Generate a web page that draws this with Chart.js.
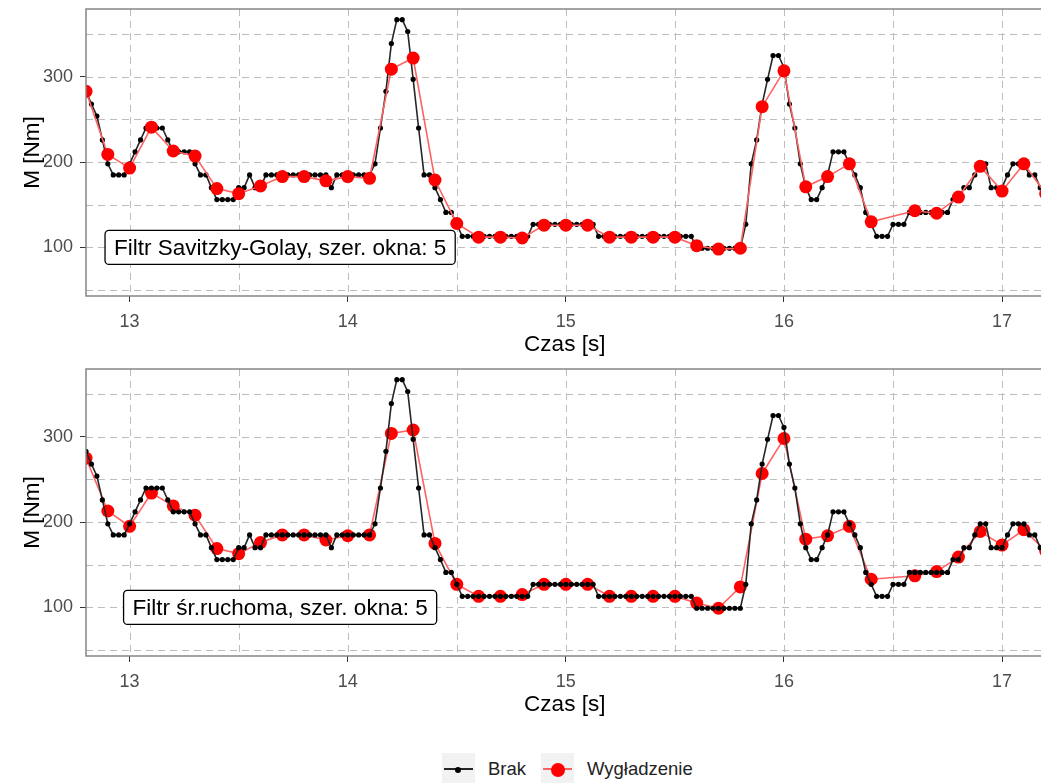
<!DOCTYPE html>
<html lang="pl">
<head>
<meta charset="utf-8">
<title>Wygładzanie momentu</title>
<script src="https://cdn.jsdelivr.net/npm/chart.js@4.4.1/dist/chart.umd.min.js"></script>
<style>
  html, body { margin: 0; padding: 0; background: #fff; overflow: hidden; width: 1041px; height: 783px; }
  canvas { position: absolute; left: 0; }
  #wykres1 { top: 0; }
  #wykres2 { top: 360px; }
  .klucz { position: absolute; top: 753px; width: 33px; height: 33px; background: #f2f2f2; }
  .klucz .linia { position: absolute; left: 2px; right: 2px; top: 15px; height: 2px; }
  .klucz .kropka { position: absolute; border-radius: 50%; }
  .tekst { position: absolute; top: 758px; font: 18.5px "Liberation Sans", Arial, sans-serif; color: #222; line-height: 22px; }
</style>
</head>
<body>
<canvas id="wykres1" width="1050" height="362"></canvas>
<canvas id="wykres2" width="1050" height="362"></canvas>
<div id="legenda"></div>
<script>
// Sygnał surowy (Brak) - próbki co 0.025 s od 12.8 s
const T0 = 12.8;
const DT = 0.025;
const brakM = [
  283, 268, 254, 226, 198, 185, 185, 185, 198, 212,
  226, 240, 240, 240, 240, 226, 212, 212, 212, 212,
  198, 185, 185, 170, 156, 156, 156, 156, 170, 170,
  185, 170, 170, 185, 185, 185, 185, 185, 185, 185,
  185, 185, 185, 185, 185, 170, 185, 185, 185, 185,
  185, 185, 185, 198, 240, 283, 339, 367, 367, 353,
  297, 240, 185, 185, 170, 156, 141, 141, 127, 113,
  113, 113, 113, 113, 113, 113, 113, 113, 113, 113,
  113, 113, 127, 127, 127, 127, 127, 127, 127, 127,
  127, 127, 127, 127, 113, 113, 113, 113, 113, 113,
  113, 113, 113, 113, 113, 113, 113, 113, 113, 113,
  113, 113, 99, 99, 99, 99, 99, 99, 99, 99,
  99, 127, 198, 226, 268, 297, 325, 325, 311, 268,
  240, 198, 170, 156, 156, 170, 185, 212, 212, 212,
  198, 185, 170, 141, 127, 113, 113, 113, 127, 127,
  127, 141, 141, 141, 141, 141, 141, 141, 141, 156,
  156, 170, 170, 185, 198, 198, 170, 170, 170, 185,
  198, 198, 198, 185, 185, 170, 170
];
const brakT = brakM.map((_, i) => +(T0 + i * DT).toFixed(3));

// Sygnał wygładzony - co 0.1 s (brak punktu 16.5 s)
const wygT = [12.8, 12.9, 13.0, 13.1, 13.2, 13.3, 13.4, 13.5, 13.6, 13.7, 13.8, 13.9,
  14.0, 14.1, 14.2, 14.3, 14.4, 14.5, 14.6, 14.7, 14.8, 14.9, 15.0, 15.1, 15.2, 15.3,
  15.4, 15.5, 15.6, 15.7, 15.8, 15.9, 16.0, 16.1, 16.2, 16.3, 16.4, 16.6, 16.7, 16.8,
  16.9, 17.0, 17.1, 17.2];
const sgM = [283, 209, 193, 241, 213, 207, 169, 163, 172, 183, 183, 178,
  183, 181, 309, 322, 179, 128, 112, 112, 111, 126, 126, 126, 112, 112,
  112, 112, 102, 98, 99, 265, 307, 171, 183, 198, 130, 143, 140, 159,
  195, 166, 198, 163];
const maM = [275, 213, 195, 234, 219, 208, 169, 163, 176, 185, 185, 179,
  184, 185, 304, 308, 175, 127, 113, 113, 115, 127, 127, 127, 113, 113,
  113, 113, 105, 99, 124, 257, 298, 180, 184, 195, 133, 137, 142, 159,
  189, 173, 191, 166];

const nazwySerii = ['Brak', 'Wygładzenie'];
const opisy = ['Filtr Savitzky-Golay, szer. okna: 5', 'Filtr śr.ruchoma, szer. okna: 5'];

const xTicks = [13, 14, 15, 16, 17];
const xMinor = [13.5, 14.5, 15.5, 16.5];
const yTicks = [100, 200, 300];
const yMinor = [50, 150, 250, 350];

const CZCIONKA = '"Liberation Sans", Arial, sans-serif';
Chart.defaults.font.family = CZCIONKA;

// siatka przerywana, etykieta z filtrem i ramka panelu
const panel = {
  id: 'panel',
  beforeDatasetsDraw(chart) {
    const { ctx, chartArea: a, scales: { x, y } } = chart;
    ctx.save();
    ctx.beginPath();
    ctx.rect(a.left, a.top, a.right - a.left, a.bottom - a.top);
    ctx.clip();
    ctx.strokeStyle = '#bdbdbd';
    ctx.lineWidth = 1;
    ctx.setLineDash([7, 5]);
    [...xTicks, ...xMinor].forEach(v => {
      const px = Math.round(x.getPixelForValue(v)) + 0.5;
      ctx.beginPath(); ctx.moveTo(px, a.top); ctx.lineTo(px, a.bottom); ctx.stroke();
    });
    [...yTicks, ...yMinor].forEach(v => {
      const py = Math.round(y.getPixelForValue(v)) + 0.5;
      ctx.beginPath(); ctx.moveTo(a.left, py); ctx.lineTo(a.right, py); ctx.stroke();
    });
    ctx.restore();
  },
  afterDatasetsDraw(chart, args, opts) {
    const { ctx, chartArea: a, scales: { x, y } } = chart;
    ctx.save();
    ctx.font = '22.5px ' + CZCIONKA;
    const w = ctx.measureText(opts.text).width + 18;
    const h = 34;
    const cx = x.getPixelForValue(opts.x);
    const cy = y.getPixelForValue(opts.y);
    ctx.beginPath();
    ctx.roundRect(cx - w / 2, cy - h / 2, w, h, 4);
    ctx.fillStyle = '#fff';
    ctx.fill();
    ctx.strokeStyle = '#000';
    ctx.lineWidth = 1.3;
    ctx.stroke();
    ctx.fillStyle = '#000';
    ctx.textAlign = 'center';
    ctx.textBaseline = 'middle';
    ctx.fillText(opts.text, cx, cy + 1);
    ctx.strokeStyle = '#858585';
    ctx.lineWidth = 1.5;
    ctx.strokeRect(a.left, a.top, a.right - a.left, a.bottom - a.top);
    ctx.restore();
  }
};

function rysuj(id, wygM, opis, brakNaWierzchu) {
  return new Chart(document.getElementById(id), {
    type: 'line',
    data: {
      datasets: [
        {
          label: nazwySerii[0],
          data: brakT.map((t, i) => ({ x: t, y: brakM[i] })),
          borderColor: '#262626',
          borderWidth: 1.6,
          pointRadius: 2.6,
          pointBackgroundColor: '#000',
          pointBorderWidth: 0,
          order: brakNaWierzchu ? 0 : 1
        },
        {
          label: nazwySerii[1],
          data: wygT.map((t, i) => ({ x: t, y: wygM[i] })),
          borderColor: '#ff6262',
          borderWidth: 1.6,
          pointRadius: 6.5,
          pointBackgroundColor: '#ff0000',
          pointBorderWidth: 0,
          order: brakNaWierzchu ? 1 : 0
        }
      ]
    },
    options: {
      responsive: false,
      animation: false,
      devicePixelRatio: 1,
      layout: { padding: { top: 9, right: 6, left: 0, bottom: 0 } },
      elements: { line: { tension: 0 } },
      plugins: {
        legend: { display: false },
        tooltip: { enabled: false },
        panel: { text: opis, x: 13.69, y: 100 }
      },
      scales: {
        x: {
          type: 'linear',
          min: 12.8,
          max: 17.19,
          afterBuildTicks: s => { s.ticks = xTicks.map(v => ({ value: v })); },
          afterFit: s => { s.height = 66; s.paddingLeft = 0; s.paddingRight = 0; },
          ticks: { font: { size: 18 }, color: '#4d4d4d', padding: 9, autoSkip: false, maxRotation: 0 },
          grid: { drawOnChartArea: false, drawTicks: true, tickLength: 6, color: '#333', tickColor: '#333' },
          border: { display: false },
          title: { display: true, text: 'Czas [s]', color: '#000', font: { size: 22.5 }, padding: { top: 2, bottom: 3.5 } }
        },
        y: {
          min: 43,
          max: 379.5,
          afterBuildTicks: s => { s.ticks = yTicks.map(v => ({ value: v })); },
          afterFit: s => { s.width = 86; s.paddingTop = 0; s.paddingBottom = 0; },
          ticks: { font: { size: 18 }, color: '#4d4d4d', padding: 7 },
          grid: { drawOnChartArea: false, drawTicks: true, tickLength: 6, color: '#333', tickColor: '#333' },
          border: { display: false },
          title: { display: true, text: 'M [Nm]', color: '#000', font: { size: 22.5 }, padding: { top: 19.5, bottom: 0 } }
        }
      }
    },
    plugins: [panel]
  });
}

rysuj('wykres1', sgM, opisy[0], false);
rysuj('wykres2', maM, opisy[1], true);

// legenda pod wykresami
const legenda = document.getElementById('legenda');
legenda.innerHTML = `
  <div class="klucz" style="left:442px"><span class="linia" style="background:#262626"></span>
    <span class="kropka" style="left:13px;top:13.5px;width:6px;height:6px;background:#000"></span></div>
  <span class="tekst" style="left:488px">${nazwySerii[0]}</span>
  <div class="klucz" style="left:541px"><span class="linia" style="background:#ff6262"></span>
    <span class="kropka" style="left:9.5px;top:9.5px;width:14px;height:14px;background:#ff0000"></span></div>
  <span class="tekst" style="left:587px">${nazwySerii[1]}</span>
`;
</script>
</body>
</html>
